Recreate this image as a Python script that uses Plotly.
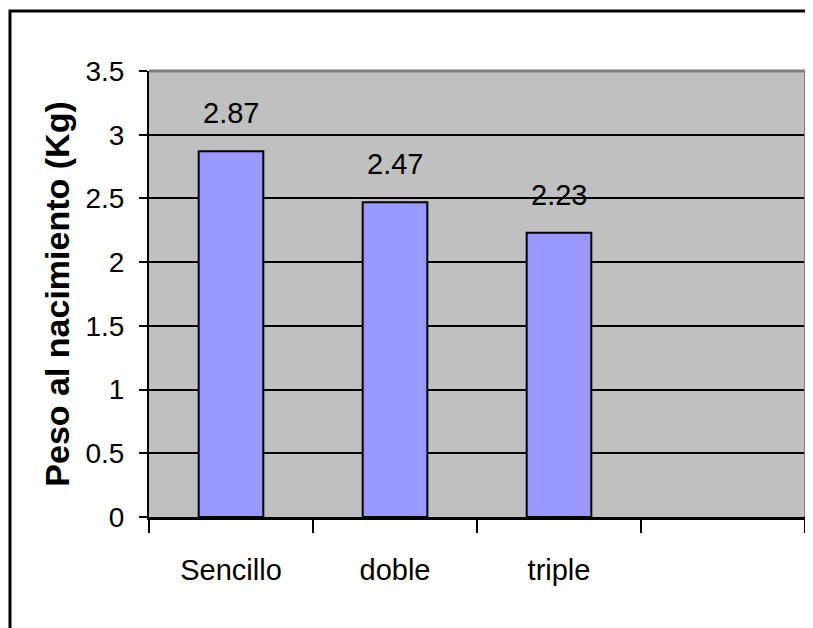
import plotly.graph_objects as go

categories = ["Sencillo", "doble", "triple", " "]
values = [2.87, 2.47, 2.23, None]
labels = ["2.87", "2.47", "2.23"]
y_ticks = [0, 0.5, 1, 1.5, 2, 2.5, 3, 3.5]
y_title = "Peso al nacimiento (Kg)"

FONT = "Liberation Sans, Arial, sans-serif"

fig = go.Figure()
fig.add_trace(go.Bar(
    x=categories, y=values,
    marker=dict(color="#9999FF", line=dict(color="black", width=2)),
    showlegend=False, hoverinfo="skip",
))

for c, v, t in zip(categories, values, labels):
    fig.add_annotation(x=c, y=v, text=t, showarrow=False, yanchor="bottom",
                       yshift=20, font=dict(family=FONT, size=29, color="black"))

fig.update_layout(
    width=805, height=620,
    margin=dict(l=141, r=8, t=63, b=111),
    paper_bgcolor="white", plot_bgcolor="#C0C0C0",
    bargap=0.606,
    xaxis=dict(
        type="category", categoryorder="array", categoryarray=categories,
        tickson="boundaries", ticks="outside", ticklen=13, tickwidth=2, tickcolor="black",
        showgrid=False, showline=True, linecolor="black", linewidth=3,
        tickfont=dict(family=FONT, size=29, color="black"),
        ticklabelstandoff=25, zeroline=False,
    ),
    yaxis=dict(
        range=[0, 3.5], tickvals=y_ticks, ticktext=[f"{t:g}" for t in y_ticks],
        ticks="outside", ticklen=8, tickwidth=2, tickcolor="black",
        showgrid=True, gridcolor="black", gridwidth=2,
        showline=True, linecolor="black", linewidth=2, zeroline=False,
        tickfont=dict(family=FONT, size=28, color="black"),
        ticklabelstandoff=9,
        title=dict(text=y_title, font=dict(family=FONT, size=34, color="black", weight="bold"), standoff=6),
    ),
)

# plot-area top/right edges (gray) and outer chart frame
fig.add_shape(type="line", xref="paper", yref="paper", x0=0, x1=1, y0=1, y1=1,
              line=dict(color="#808080", width=3), layer="above")
fig.add_shape(type="line", xref="paper", yref="paper", x0=1, x1=1, y0=0, y1=1,
              line=dict(color="#808080", width=2), layer="above")
fig.add_shape(type="rect", xref="paper", yref="paper", x0=-0.2119, x1=1.2, y0=-0.5, y1=1.1345,
              line=dict(color="black", width=3), layer="above")

fig.write_html("out.html")
